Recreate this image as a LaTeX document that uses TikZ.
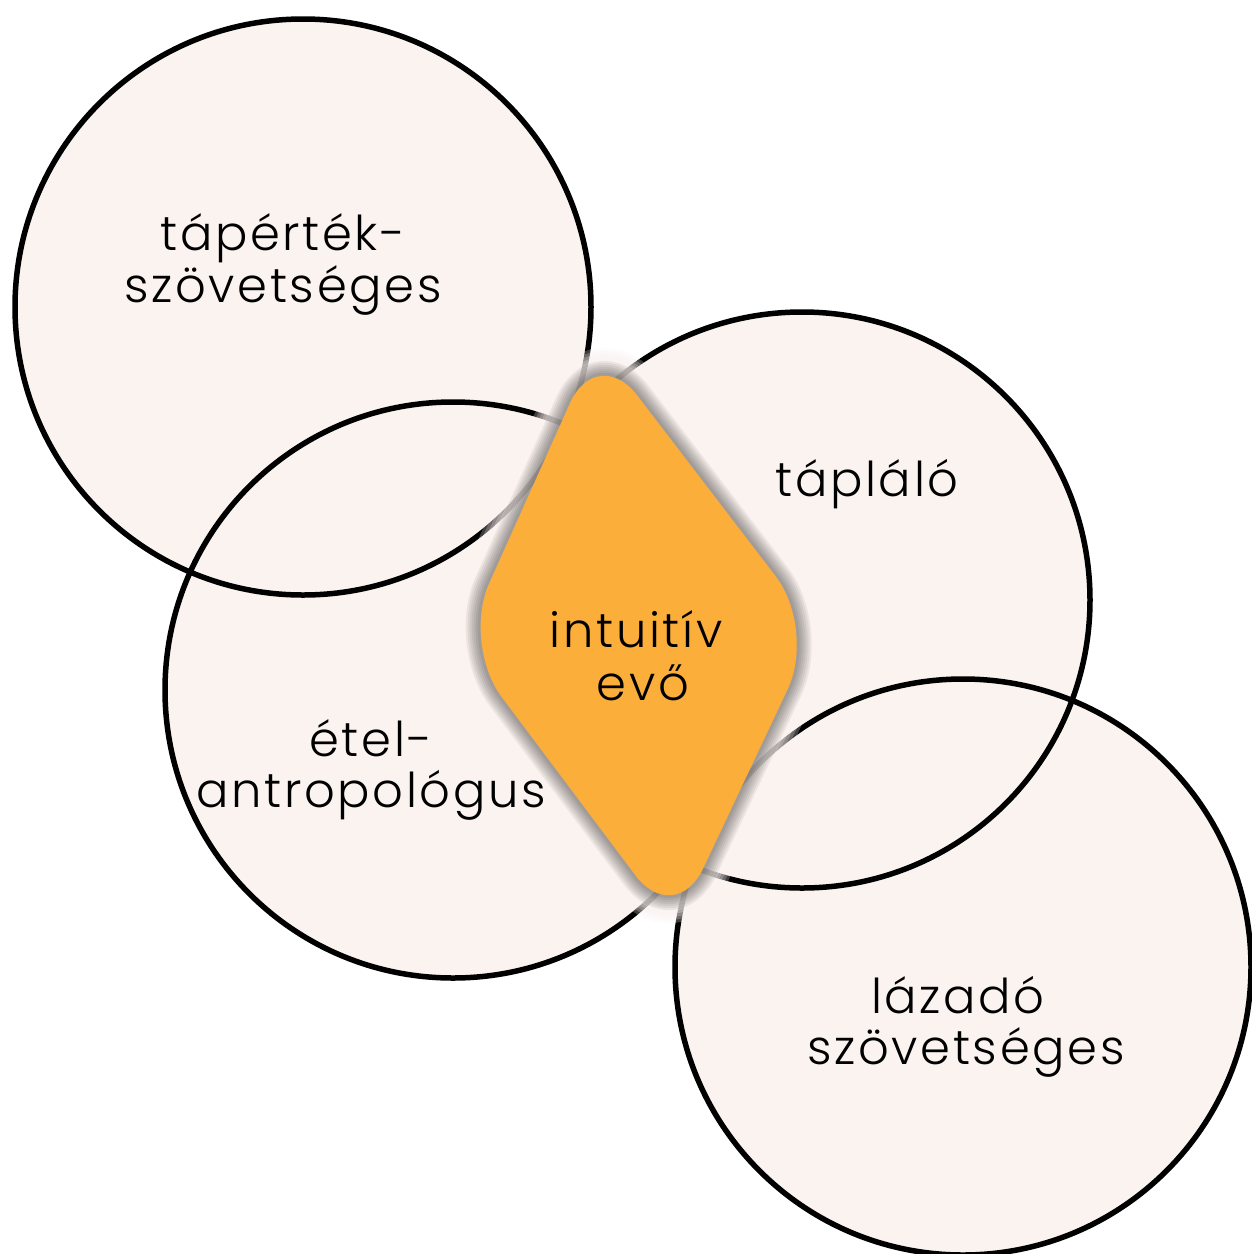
\documentclass[tikz,border=0pt]{standalone}
\usepackage{fontspec}
\setmainfont{Poppins}[UprightFont=* Light, LetterSpace=5.5]
\definecolor{circfill}{RGB}{250,243,240}
\definecolor{eaterorange}{RGB}{251,174,58}
\tikzset{
  circlebody/.style={fill=circfill},
  circleline/.style={draw=black, line width=5.5pt},
  lbl/.style={anchor=base, inner sep=0pt, font=\fontsize{48}{52}\selectfont, text=black},
}
\begin{document}
\begin{tikzpicture}[x=1pt,y=-1pt]
\fill[white] (0,0) rectangle (1252,1254);
\useasboundingbox (0,0) rectangle (1252,1254);
% circle fills
\fill[circlebody] (303,307) circle (288);
\fill[circlebody] (453,690) circle (288);
\fill[circlebody] (802,600) circle (288);
\fill[circlebody] (963,967) circle (288);
% circle outlines
\draw[circleline] (303,307) circle (288);
\draw[circleline] (453,690) circle (288);
\draw[circleline] (802,600) circle (288);
\draw[circleline] (963,967) circle (288);
% diamond halo and shadow
\def\dpath{(706.5,486) -- (816,629) -- (675,928) -- (462,644) -- (597,343) -- cycle}
\foreach \w in {56,50,44,38,32,26,20} {
  \draw[circfill, line width=\w pt, opacity=0.25, rounded corners=66pt, line join=round] \dpath;
}
\foreach \w in {30,26,22,18,14,10,6} {
  \draw[black, line width=\w pt, opacity=0.06, rounded corners=66pt, line join=round] \dpath;
}
\fill[eaterorange, rounded corners=66pt] \dpath;
% labels
\node[lbl] (n1a) at (283,250) {tápérték-};
\node[lbl] (n1b) at (283,302) {szövetséges};
\node[lbl] (n2) at (867,496) {tápláló};
\node[lbl] (n3a) at (636,647) {intuitív};
\node[lbl] (n3b) at (643,700) {evő};
\node[lbl] (n4a) at (371,756) {étel-};
\node[lbl] (n4b) at (371,807) {antropológus};
\node[lbl] (n5a) at (958,1013) {lázadó};
\node[lbl] (n5b) at (966,1064) {szövetséges};
\end{tikzpicture}
\end{document}
